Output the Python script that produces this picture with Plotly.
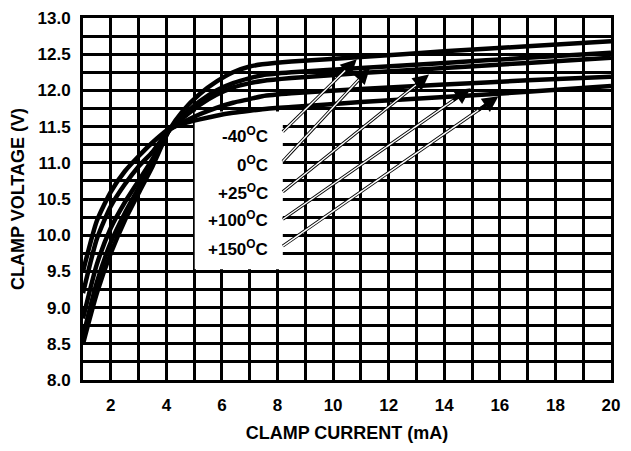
import plotly.graph_objects as go

# ---- data ----
current = [1, 1.5, 2, 2.5, 3, 3.5, 4.1, 4.6, 5.2, 5.8, 6.4, 7.0, 7.45, 8.5, 11, 14, 17, 20]
v_m40 = [8.50, 9.20, 9.75, 10.20, 10.58, 10.95, 11.45, 11.72, 11.95, 12.12, 12.25, 12.33, 12.36, 12.40, 12.46, 12.54, 12.61, 12.68]
v_0 = [8.60, 9.35, 9.90, 10.30, 10.65, 11.00, 11.45, 11.65, 11.85, 12.00, 12.10, 12.17, 12.21, 12.25, 12.31, 12.38, 12.45, 12.52]
v_25 = [8.85, 9.60, 10.10, 10.45, 10.75, 11.05, 11.45, 11.62, 11.80, 11.94, 12.04, 12.10, 12.13, 12.17, 12.24, 12.31, 12.38, 12.45]
v_100 = [9.20, 9.95, 10.40, 10.70, 10.95, 11.15, 11.45, 11.56, 11.67, 11.76, 11.83, 11.88, 11.92, 11.96, 12.02, 12.08, 12.14, 12.19]
v_150 = [9.50, 10.20, 10.60, 10.88, 11.09, 11.28, 11.47, 11.54, 11.60, 11.65, 11.69, 11.72, 11.74, 11.77, 11.84, 11.91, 11.98, 12.06]

series = [v_m40, v_0, v_25, v_100, v_150]
labels = ["-40<sup>O</sup>C", "0<sup>O</sup>C", "+25<sup>O</sup>C", "+100<sup>O</sup>C", "+150<sup>O</sup>C"]
label_y = [11.38, 10.98, 10.60, 10.22, 9.83]
arrow_tail = [(8.19, 11.43), (8.19, 11.02), (8.19, 10.60), (8.19, 10.22), (8.19, 9.85)]
arrow_head = [(10.85, 12.43), (11.32, 12.31), (13.45, 12.22), (14.95, 12.03), (15.95, 11.92)]

x_ticks = [2, 4, 6, 8, 10, 12, 14, 16, 18, 20]
y_ticks = [8.0, 8.5, 9.0, 9.5, 10.0, 10.5, 11.0, 11.5, 12.0, 12.5, 13.0]

FONT = "Liberation Sans"

fig = go.Figure()
for v in series:
    fig.add_trace(go.Scatter(x=current, y=v, mode="lines",
                             line=dict(color="black", width=4.5, shape="spline", smoothing=0.6),
                             showlegend=False, hoverinfo="skip"))

shapes = [dict(type="rect", xref="x", yref="y", x0=5.02, x1=8.19, y0=9.53, y1=11.71,
               fillcolor="white", line=dict(width=0), layer="between")]
annotations = []
for (tx, ty), (hx, hy) in zip(arrow_tail, arrow_head):
    fx = tx + (hx - tx) * 0.94
    fy = ty + (hy - ty) * 0.94
    # black outline of the shaft, then white core
    shapes.append(dict(type="line", xref="x", yref="y", x0=tx, y0=ty, x1=fx, y1=fy,
                       line=dict(color="black", width=3.2), layer="above"))
    shapes.append(dict(type="line", xref="x", yref="y", x0=tx, y0=ty, x1=fx, y1=fy,
                       line=dict(color="white", width=1.4), layer="above"))
    # arrowhead only
    sx = tx + (hx - tx) * 0.9
    sy = ty + (hy - ty) * 0.9
    annotations.append(dict(x=hx, y=hy, ax=sx, ay=sy, xref="x", yref="y", axref="x", ayref="y",
                            showarrow=True, arrowhead=2, arrowsize=1.0, arrowwidth=3.2,
                            arrowcolor="black", text=""))

for txt, ly in zip(labels, label_y):
    annotations.append(dict(x=7.72, y=ly, xref="x", yref="y", text=txt,
                            showarrow=False, xanchor="right", yanchor="middle",
                            font=dict(family=FONT, size=17, color="black", weight="bold")))

# page body has an 8px default margin: size the figure so it fits the 631x451 window
fig.update_layout(
    width=615, height=435,
    margin=dict(l=75, r=12, t=10, b=63, autoexpand=False),
    paper_bgcolor="white", plot_bgcolor="white",
    shapes=shapes, annotations=annotations,
    font=dict(family=FONT, size=17, color="black", weight="bold"),
)
fig.update_xaxes(range=[1, 20], tickvals=x_ticks, ticktext=[str(t) for t in x_ticks],
                 showgrid=False, minor=dict(dtick=1, tick0=0, showgrid=True, gridcolor="black", gridwidth=3),
                 showline=True, linecolor="black", linewidth=3, mirror=True,
                 ticks="outside", ticklen=8, tickcolor="rgba(0,0,0,0)",
                 tickfont=dict(family=FONT, size=17, weight="bold"), ticklabeloverflow="allow",
                 title=dict(text="CLAMP CURRENT (mA)", font=dict(family=FONT, size=18, weight="bold"), standoff=16),
                 zeroline=False, automargin=False)
fig.update_yaxes(range=[8, 13], tickvals=y_ticks, ticktext=[f"{t:.1f}" for t in y_ticks],
                 showgrid=False, minor=dict(dtick=0.25, tick0=0, showgrid=True, gridcolor="black", gridwidth=3),
                 showline=True, linecolor="black", linewidth=3, mirror=True,
                 ticks="outside", ticklen=6, tickcolor="rgba(0,0,0,0)",
                 tickfont=dict(family=FONT, size=17, weight="bold"), ticklabeloverflow="allow",
                 title=dict(text="CLAMP VOLTAGE (V)", font=dict(family=FONT, size=18, weight="bold"), standoff=11),
                 zeroline=False, automargin=False)

fig.write_html("out.html")
